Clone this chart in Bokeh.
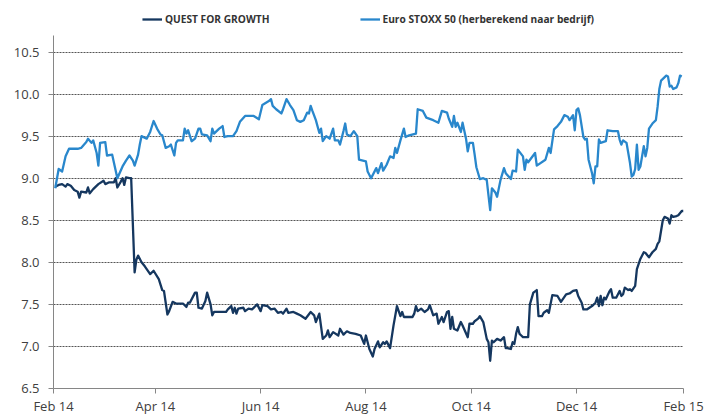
from datetime import date
from bokeh.plotting import figure
from bokeh.models import (ColumnDataSource, Range1d, FixedTicker, Legend, LegendItem,
                          PrintfTickFormatter)
from bokeh.embed import file_html
from bokeh.resources import INLINE

START = date(2014, 2, 1)

# x tick labels
x_tick_dates = [date(2014, 2, 1), date(2014, 4, 1), date(2014, 6, 1), date(2014, 8, 1),
                date(2014, 10, 1), date(2014, 12, 1), date(2015, 2, 1)]
x_tick_labels = ["Feb 14", "Apr 14", "Jun 14", "Aug 14", "Oct 14", "Dec 14", "Feb 15"]
y_ticks = [6.5, 7.0, 7.5, 8.0, 8.5, 9.0, 9.5, 10.0, 10.5]

# QUEST FOR GROWTH (days since 1 Feb 2014, value)
quest_days = [1, 3, 5, 7, 8, 10, 12, 14, 15, 16, 19, 20, 21, 23, 26, 29, 30, 32, 35, 36,
              37, 39, 40, 41, 42, 44, 45, 47, 48, 49, 51, 53, 55, 56, 58, 61, 63, 64, 66, 67,
              69, 71, 75, 77, 78, 79, 82, 83, 84, 86, 88, 89, 91, 92, 93, 97, 100, 101, 103, 104,
              105, 106, 107, 110, 111, 113, 115, 118, 120, 121, 124, 126, 128, 130, 132, 133, 135, 136, 139, 141,
              143, 146, 149, 151, 152, 154, 156, 158, 159, 160, 162, 165, 166, 168, 170, 172, 175, 178, 180, 181,
              183, 185, 186, 188, 189, 191, 192, 193, 195, 197, 199, 200, 201, 202, 203, 205, 208, 209, 210, 211,
              213, 215, 217, 218, 220, 222, 223, 225, 226, 228, 229, 230, 231, 232, 234, 236, 237, 240, 241, 243,
              244, 246, 247, 249, 251, 252, 253, 254, 255, 257, 259, 261, 262, 263, 265, 266, 267, 268, 269, 270,
              271, 272, 275, 276, 278, 280, 281, 283, 284, 286, 287, 289, 292, 294, 295, 297, 299, 301, 303, 304,
              306, 307, 309, 312, 314, 315, 316, 317, 318, 319, 320, 322, 323, 324, 326, 328, 329, 330, 331, 333,
              334, 335, 337, 338, 340, 342, 343, 345, 347, 349, 350, 351, 353, 354, 356, 357, 358, 359, 361, 362,
              364, 365]
quest_values = [8.90, 8.92, 8.93, 8.90, 8.93, 8.91, 8.86, 8.84, 8.77, 8.84, 8.83, 8.89, 8.82, 8.87, 8.93, 8.97, 8.93, 8.95, 8.95, 9.00,
                8.89, 8.96, 9.00, 8.92, 9.01, 9.00, 9.00, 7.88, 8.03, 8.08, 8.00, 7.95, 7.89, 7.86, 7.90, 7.80, 7.67, 7.66, 7.38, 7.42,
                7.53, 7.51, 7.51, 7.47, 7.52, 7.52, 7.64, 7.64, 7.46, 7.45, 7.54, 7.64, 7.50, 7.37, 7.41, 7.41, 7.41, 7.44, 7.48, 7.40,
                7.46, 7.39, 7.45, 7.46, 7.42, 7.45, 7.44, 7.50, 7.42, 7.49, 7.48, 7.44, 7.45, 7.40, 7.41, 7.39, 7.45, 7.40, 7.41, 7.39,
                7.37, 7.33, 7.41, 7.37, 7.29, 7.39, 7.09, 7.13, 7.19, 7.11, 7.17, 7.13, 7.21, 7.14, 7.18, 7.16, 7.15, 7.13, 7.03, 7.13,
                6.97, 6.88, 6.97, 7.06, 6.99, 7.05, 7.03, 7.06, 6.98, 7.25, 7.48, 7.42, 7.36, 7.41, 7.35, 7.35, 7.35, 7.39, 7.48, 7.42,
                7.45, 7.41, 7.44, 7.49, 7.37, 7.39, 7.27, 7.35, 7.29, 7.41, 7.42, 7.21, 7.35, 7.21, 7.19, 7.29, 7.25, 7.11, 7.27, 7.27,
                7.30, 7.33, 7.36, 7.29, 7.09, 7.05, 6.83, 7.07, 7.05, 7.09, 7.07, 7.11, 6.98, 6.98, 6.97, 7.05, 7.03, 7.15, 7.23, 7.15,
                7.13, 7.11, 7.11, 7.50, 7.64, 7.67, 7.36, 7.36, 7.40, 7.43, 7.40, 7.61, 7.60, 7.53, 7.56, 7.62, 7.63, 7.66, 7.67, 7.60,
                7.52, 7.44, 7.44, 7.48, 7.52, 7.58, 7.48, 7.60, 7.49, 7.58, 7.56, 7.65, 7.68, 7.58, 7.58, 7.66, 7.60, 7.62, 7.70, 7.67,
                7.68, 7.66, 7.72, 7.92, 8.04, 8.12, 8.11, 8.06, 8.12, 8.16, 8.22, 8.25, 8.50, 8.54, 8.52, 8.46, 8.56, 8.54, 8.55, 8.56,
                8.61, 8.61]

# Euro STOXX 50 (herberekend naar bedrijf)
stoxx_days = [1, 3, 5, 7, 9, 14, 16, 19, 20, 22, 23, 25, 26, 27, 30, 31, 34, 37, 40, 42,
              44, 46, 47, 49, 50, 51, 54, 56, 58, 60, 62, 63, 65, 67, 68, 70, 71, 72, 75, 76,
              77, 78, 80, 82, 84, 85, 86, 89, 91, 92, 93, 96, 98, 99, 101, 104, 106, 108, 111, 116,
              119, 121, 125, 126, 127, 129, 132, 133, 135, 137, 139, 141, 143, 145, 147, 148, 149, 150, 152, 154,
              155, 156, 158, 160, 162, 163, 165, 166, 168, 169, 170, 172, 174, 176, 177, 181, 182, 184, 187, 188,
              190, 191, 193, 195, 197, 198, 199, 201, 203, 204, 206, 210, 211, 214, 216, 220, 223, 225, 228, 229,
              231, 232, 233, 234, 236, 237, 239, 240, 241, 243, 244, 245, 247, 249, 251, 252, 253, 254, 256, 257,
              259, 261, 262, 265, 266, 268, 269, 272, 273, 274, 275, 279, 280, 285, 287, 288, 290, 292, 294, 296,
              298, 299, 301, 302, 303, 304, 305, 307, 308, 309, 310, 312, 313, 314, 315, 316, 317, 320, 321, 324,
              327, 328, 329, 330, 332, 334, 335, 336, 337, 338, 339, 340, 342, 343, 344, 345, 347, 349, 350, 351,
              352, 355, 356, 357, 358, 359, 361, 362, 363, 364]
stoxx_values = [8.88, 9.11, 9.08, 9.26, 9.35, 9.35, 9.36, 9.43, 9.47, 9.42, 9.45, 9.30, 9.15, 9.42, 9.43, 9.27, 9.28, 9.00, 9.14, 9.21,
                9.27, 9.21, 9.15, 9.28, 9.40, 9.50, 9.47, 9.55, 9.68, 9.59, 9.52, 9.51, 9.36, 9.38, 9.40, 9.27, 9.42, 9.45, 9.45, 9.59,
                9.53, 9.57, 9.44, 9.47, 9.59, 9.59, 9.52, 9.51, 9.44, 9.59, 9.53, 9.59, 9.62, 9.49, 9.50, 9.50, 9.56, 9.67, 9.74, 9.74,
                9.70, 9.87, 9.92, 9.94, 9.86, 9.82, 9.77, 9.82, 9.94, 9.87, 9.81, 9.69, 9.67, 9.69, 9.78, 9.77, 9.86, 9.80, 9.69, 9.54,
                9.59, 9.44, 9.50, 9.47, 9.59, 9.45, 9.45, 9.40, 9.56, 9.65, 9.52, 9.50, 9.56, 9.50, 9.22, 9.20, 9.08, 9.00, 9.12, 9.06,
                9.18, 9.09, 9.16, 9.26, 9.24, 9.36, 9.30, 9.45, 9.59, 9.49, 9.51, 9.53, 9.82, 9.80, 9.72, 9.69, 9.66, 9.80, 9.78, 9.71,
                9.61, 9.74, 9.61, 9.66, 9.55, 9.66, 9.47, 9.32, 9.42, 9.42, 9.28, 9.13, 8.99, 9.00, 8.98, 8.80, 8.62, 8.88, 8.83, 8.78,
                8.98, 9.12, 9.06, 8.99, 9.09, 9.08, 9.34, 9.26, 9.10, 9.22, 9.19, 9.30, 9.15, 9.22, 9.36, 9.30, 9.58, 9.62, 9.67, 9.75,
                9.73, 9.69, 9.75, 9.57, 9.81, 9.83, 9.75, 9.49, 9.46, 9.47, 9.22, 9.06, 8.94, 9.14, 9.14, 9.46, 9.42, 9.44, 9.57, 9.56,
                9.56, 9.46, 9.40, 9.45, 9.42, 9.18, 9.02, 9.04, 9.11, 9.40, 9.10, 9.14, 9.38, 9.26, 9.36, 9.59, 9.65, 9.69, 9.85, 10.06,
                10.16, 10.22, 10.21, 10.09, 10.10, 10.06, 10.08, 10.13, 10.22, 10.21]

if len(quest_days) != len(quest_values) or len(stoxx_days) != len(stoxx_values):
    raise SystemExit(f"length mismatch {len(quest_days)} {len(quest_values)} {len(stoxx_days)} {len(stoxx_values)}")

QUEST_COLOR = "#15375F"
STOXX_COLOR = "#2987CC"
FONT = "Open Sans"

x_ticks = [(d - START).days for d in x_tick_dates]
x_end = x_ticks[-1]

# frame top at 12px, y=10.5 near 52px, y=6.5 near 390px
Y_TOP = 10.97
p = figure(width=706, height=417, output_backend="svg", toolbar_location=None,
           x_range=Range1d(0, x_end), y_range=Range1d(6.5, Y_TOP),
           min_border_left=53, min_border_right=23, min_border_top=12, min_border_bottom=27)
p.outline_line_color = None
p.background_fill_color = "white"
p.border_fill_color = "white"

src_q = ColumnDataSource(dict(x=quest_days, y=quest_values))
src_s = ColumnDataSource(dict(x=stoxx_days, y=stoxx_values))
r_q = p.line("x", "y", source=src_q, line_color=QUEST_COLOR, line_width=2.3, line_join="round")
r_s = p.line("x", "y", source=src_s, line_color=STOXX_COLOR, line_width=2.3, line_join="round")

# axes
for ax in (p.xaxis[0], p.yaxis[0]):
    ax.axis_line_color = "#868686"
    ax.major_tick_line_color = "#868686"
    ax.minor_tick_line_color = None
    ax.major_tick_in = 0
    ax.major_tick_out = 5
    ax.major_label_text_font = FONT
    ax.major_label_text_font_size = "13px"
    ax.major_label_text_color = "#404040"
    ax.axis_label_standoff = 0

p.xaxis.ticker = FixedTicker(ticks=x_ticks)
p.xaxis.major_label_overrides = {t: l for t, l in zip(x_ticks, x_tick_labels)}
p.xaxis.major_label_standoff = 3
p.yaxis.ticker = FixedTicker(ticks=y_ticks)
p.yaxis.formatter = PrintfTickFormatter(format="%.1f")
p.yaxis.major_label_standoff = 9
p.yaxis.bounds = (6.5, 10.7)

p.xgrid.grid_line_color = None
p.ygrid.ticker = FixedTicker(ticks=y_ticks[1:])
p.ygrid.grid_line_color = "#555555"
p.ygrid.grid_line_dash = "2 1"
p.ygrid.grid_line_width = 1

legend = Legend(items=[LegendItem(label="QUEST FOR GROWTH", renderers=[r_q]),
                       LegendItem(label="Euro STOXX 50 (herberekend naar bedrijf)", renderers=[r_s])],
                orientation="horizontal", location="top_center",
                border_line_alpha=0, background_fill_alpha=0,
                label_text_font=FONT, label_text_font_style="bold", label_text_font_size="10.2px",
                label_text_color="#333333",
                glyph_width=20, glyph_height=10, label_height=10, label_standoff=3,
                spacing=90, padding=0, margin=0)
p.add_layout(legend, "center")

open("out.html", "w").write(file_html(p, INLINE))
